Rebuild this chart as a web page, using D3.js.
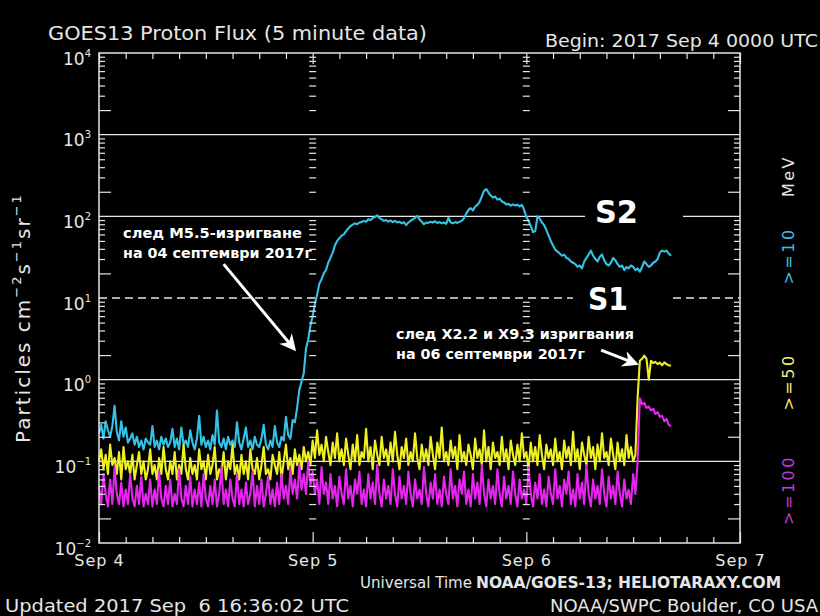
<!DOCTYPE html>
<html><head><meta charset="utf-8">
<script src="https://cdn.jsdelivr.net/npm/d3@7"></script>
<style>body{margin:0;background:#000}svg{display:block}</style>
</head><body><svg id="c" width="820" height="616"></svg>
<script>
// ---- data (5-minute GOES13 proton flux, read every 15 minutes from the picture) ----
const startTime = Date.UTC(2017, 8, 4, 0, 0);
const stepMinutes = 15;
const p10 = [
.22,.28,.19,.31,.24,.2,.27,.48,.23,.18,.31,.2,.26,.17,.19,.22,
.16,.2,.15,.18,.14,.19,.17,.16,.27,.15,.18,.14,.2,.16,.19,.15,
.17,.25,.15,.19,.14,.26,.16,.18,.15,.24,.17,.14,.19,.36,.16,.2,
.15,.18,.14,.21,.16,.42,.17,.15,.19,.14,.2,.16,.18,.15,.3,.17,
.14,.19,.26,.15,.18,.14,.2,.16,.15,.19,.28,.16,.14,.18,.15,.27,
.17,.15,.2,.18,.35,.21,.19,.32,.3,.45,.75,.95,1.2,2.4,3.1,4.6,
6,8.5,11,15,17,20,22,27,31,36,44,50,54,58,60,66,
71,76,79,82,80,84,85,88,86,92,90,95,98,103,95,92,
88,90,86,89,85,88,84,86,82,85,78,84,88,92,96,101,
92,86,80,84,83,86,84,87,83,85,82,84,81,96,84,82,
85,83,86,88,95,108,120,126,118,132,138,150,175,205,215,195,
180,170,175,160,165,152,148,140,142,135,140,136,139,132,138,120,
98,88,76,64,66,100,94,84,78,68,58,50,44,39,37,35,
33,34,31,30,28,27,26,24,25,23,28,31,34,38,33,30,
28,32,34,29,26,25,27,31,29,26,24,25,22,24,23,25,
24,22,23,21,24,28,26,24,25,27,28,30,36,38,37,38,35,33];
const p50 = [
.1,.14,.08,.12,.07,.16,.09,.11,.07,.13,.06,.15,.08,.1,.07,.12,
.06,.09,.13,.07,.1,.06,.08,.14,.07,.09,.06,.11,.07,.15,.08,.06,
.1,.07,.13,.06,.09,.07,.16,.08,.06,.11,.07,.09,.06,.14,.08,.1,
.06,.12,.07,.09,.15,.06,.08,.07,.13,.06,.1,.08,.16,.07,.09,.06,
.12,.07,.1,.06,.14,.08,.07,.11,.06,.09,.15,.07,.08,.06,.12,.09,
.07,.13,.06,.1,.16,.08,.11,.07,.14,.09,.12,.08,.15,.1,.13,.09,
.18,.11,.24,.12,.16,.1,.2,.13,.09,.17,.11,.22,.1,.14,.09,.19,
.12,.08,.16,.1,.21,.09,.13,.11,.25,.1,.15,.08,.18,.12,.09,.2,
.11,.14,.09,.17,.1,.23,.12,.08,.15,.11,.19,.09,.13,.1,.22,.11,
.08,.16,.1,.14,.09,.2,.12,.08,.17,.11,.26,.1,.13,.09,.18,.11,
.15,.08,.21,.1,.13,.09,.16,.12,.08,.19,.11,.14,.09,.24,.1,.15,
.08,.17,.11,.13,.09,.2,.1,.14,.08,.18,.12,.09,.16,.1,.22,.11,
.13,.08,.17,.1,.15,.09,.21,.12,.08,.16,.11,.14,.09,.19,.1,.13,
.08,.18,.11,.15,.09,.23,.1,.14,.08,.17,.12,.09,.2,.11,.15,.08,
.16,.1,.22,.11,.13,.09,.19,.12,.08,.17,.1,.14,.09,.21,.11,.15,
.1,.12,.6,1.7,1.8,1.97,1.8,1.0,1.7,1.6,1.65,1.55,1.62,1.5,1.63,1.55,1.5,1.48];
const p100 = [
.05,.03,.07,.04,.028,.06,.03,.085,.04,.03,.055,.028,.045,.03,.07,.035,
.028,.05,.03,.065,.028,.04,.03,.06,.028,.045,.03,.075,.035,.028,.05,.03,
.06,.028,.04,.03,.08,.035,.028,.05,.03,.065,.028,.045,.03,.055,.028,.07,
.035,.028,.05,.03,.06,.028,.04,.085,.03,.045,.028,.06,.035,.028,.07,.03,
.045,.028,.055,.03,.04,.075,.028,.05,.03,.06,.028,.04,.065,.03,.045,.028,
.055,.03,.07,.035,.05,.03,.08,.04,.06,.035,.09,.045,.07,.04,.1,.05,
.075,.04,.06,.03,.085,.04,.055,.03,.07,.035,.05,.028,.065,.04,.03,.08,
.035,.05,.028,.06,.04,.075,.03,.045,.028,.07,.035,.055,.03,.09,.04,.028,
.06,.035,.05,.03,.08,.04,.028,.065,.035,.05,.03,.075,.04,.028,.06,.035,
.045,.03,.085,.04,.028,.055,.035,.07,.03,.045,.028,.065,.04,.03,.08,.035,
.05,.028,.06,.04,.075,.03,.045,.028,.07,.035,.055,.03,.09,.04,.028,.06,
.035,.05,.03,.08,.04,.028,.065,.035,.05,.03,.075,.04,.028,.06,.035,.045,
.03,.085,.04,.028,.055,.035,.07,.03,.045,.028,.065,.04,.03,.08,.035,.05,
.028,.06,.04,.075,.03,.045,.028,.07,.035,.055,.03,.09,.04,.028,.06,.035,
.05,.03,.08,.04,.028,.065,.035,.05,.03,.075,.04,.028,.06,.035,.045,.03,
.07,.04,.1,.59,.5,.52,.45,.47,.42,.44,.38,.4,.35,.36,.31,.33,.28,.27];
const yExponents = [4, 3, 2, 1, 0, -1, -2];
const dayLabels = ["Sep 4", "Sep 5", "Sep 6", "Sep 7"];
const channelLabels = ["MeV", ">=10", ">=50", ">=100"];

// ---- drawing ----
const W = 820, H = 616;
const svg = d3.select("#c");
svg.append("rect").attr("width", W).attr("height", H).attr("fill", "#000");
const L = 99, R = 740, T = 53, B = 543;
const fg = "#e6e6e6";
const font = "'DejaVu Sans', sans-serif";

const days = dayLabels.map((d, i) => new Date(Date.UTC(2017, 8, 4 + i)));
const x = d3.scaleUtc().domain([days[0], days[3]]).range([L, R]);
const y = d3.scaleLog().domain([1e-2, 1e4]).range([B, T]);
const majors = yExponents.map(e => Math.pow(10, e));
const minors = [];
for (let e = -2; e < 4; e++) for (let k = 2; k < 10; k++) minors.push(k * Math.pow(10, e));
const twos = minors.filter(v => Math.abs(v / Math.pow(10, Math.floor(Math.log10(v) + 1e-9)) - 2) < 1e-6);
const others = minors.filter(v => !twos.includes(v));
const tAt = i => new Date(startTime + i * stepMinutes * 60000);

// grid lines
const grid = svg.append("g").attr("stroke", fg).attr("stroke-width", 1.3);
[[1e3, L, R], [1e2, L, 585], [1e2, 683, R], [1e0, L, R], [1e-1, L, R]].forEach(([v, a, b]) =>
  grid.append("line").attr("x1", a).attr("x2", b).attr("y1", y(v)).attr("y2", y(v)));
[[1e1, L, 573], [1e1, 673, R]].forEach(([v, a, b]) =>
  grid.append("line").attr("x1", a).attr("x2", b).attr("y1", y(v)).attr("y2", y(v))
    .attr("stroke-dasharray", "8,5"));

// series
const line = d3.line().x((d, i) => x(tAt(i))).y(d => y(d));
const series = [[p10, "#34c3e6"], [p50, "#eef024"], [p100, "#e426ee"]];
series.forEach(([data, col]) => {
  svg.append("path").attr("d", line(data)).attr("fill", "none")
    .attr("stroke", col).attr("stroke-width", 2.1).attr("stroke-linejoin", "round");
});

// frame
svg.append("rect").attr("x", L).attr("y", T).attr("width", R - L).attr("height", B - T)
  .attr("fill", "none").attr("stroke", fg).attr("stroke-width", 1.5);

function clean(g) { g.select(".domain").remove(); g.selectAll("line").attr("stroke", fg).attr("stroke-width", 1.2); }

// left axis ticks
svg.append("g").attr("transform", `translate(${L},0)`)
  .call(d3.axisRight(y).tickValues(others).tickSize(6).tickFormat("")).call(clean);
svg.append("g").attr("transform", `translate(${L},0)`)
  .call(d3.axisRight(y).tickValues(twos).tickSize(12).tickFormat("")).call(clean);
// right axis ticks
svg.append("g").attr("transform", `translate(${R},0)`)
  .call(d3.axisLeft(y).tickValues(others).tickSize(6).tickFormat("")).call(clean);
svg.append("g").attr("transform", `translate(${R},0)`)
  .call(d3.axisLeft(y).tickValues(twos).tickSize(12).tickFormat("")).call(clean);
// day-boundary tick columns
[days[1], days[2]].forEach(d => {
  svg.append("g").attr("transform", `translate(${x(d) + 3.5},0)`)
    .call(d3.axisLeft(y).tickValues(minors).tickSize(7).tickFormat("")).call(clean);
});

// time axes
const hrs = d3.utcHour.every(3).range(days[0], days[3]).filter(d => d.getUTCHours() !== 0);
svg.append("g").attr("transform", `translate(0,${B})`)
  .call(d3.axisTop(x).tickValues(hrs).tickSize(6).tickFormat("")).call(clean);
svg.append("g").attr("transform", `translate(0,${T})`)
  .call(d3.axisBottom(x).tickValues(hrs).tickSize(6).tickFormat("")).call(clean);
svg.append("g").attr("transform", `translate(0,${B})`)
  .call(d3.axisTop(x).tickValues(days).tickSize(11).tickFormat("")).call(clean);
svg.append("g").attr("transform", `translate(0,${T})`)
  .call(d3.axisBottom(x).tickValues(days).tickSize(11).tickFormat("")).call(clean);

// day labels
const xl = svg.append("g").attr("transform", `translate(0,${B})`)
  .call(d3.axisBottom(x).tickValues(days).tickSize(0).tickPadding(12).tickFormat((d, i) => dayLabels[i]));
xl.select(".domain").remove();
xl.selectAll("text").attr("fill", fg).attr("font-family", font).attr("font-size", 16).attr("letter-spacing", 1);

// y labels with superscripts
const yl = svg.append("g").attr("transform", `translate(${L},0)`)
  .call(d3.axisLeft(y).tickValues(majors).tickSize(0).tickPadding(8).tickFormat(""));
yl.select(".domain").remove();
yl.selectAll("text").each(function (d, i) {
  const t = d3.select(this).attr("fill", fg).attr("font-family", font).attr("font-size", 17)
    .attr("dy", "0.65em").attr("text-anchor", "end");
  t.append("tspan").text("10");
  t.append("tspan").attr("dy", -8).attr("font-size", 10).text(String(yExponents[i]).replace("-", "\u2212"));
});

// y axis title
const yt = svg.append("text").attr("transform", "translate(30,318) rotate(-90)")
  .attr("text-anchor", "middle").attr("fill", fg).attr("font-family", font)
  .attr("font-size", 20).attr("letter-spacing", 2);
yt.append("tspan").text("Particles cm");
yt.append("tspan").attr("dy", -9).attr("font-size", 13).text("\u22122");
yt.append("tspan").attr("dy", 9).text("s");
yt.append("tspan").attr("dy", -9).attr("font-size", 13).text("\u22121");
yt.append("tspan").attr("dy", 9).text("sr");
yt.append("tspan").attr("dy", -9).attr("font-size", 13).text("\u22121");

// channel labels at right
const chColors = [fg, "#38c0e4", "#eef070", "#c43ad8"];
const chY = [176, 256, 382, 490];
channelLabels.forEach((s, i) => {
  svg.append("text").attr("transform", `translate(794,${chY[i]}) rotate(-90)`)
    .attr("text-anchor", "middle").attr("fill", chColors[i]).attr("font-family", font)
    .attr("font-size", 16).attr("letter-spacing", 2.5).text(s);
});

// titles & footers
function txt(s, xx, yy, size, opts = {}) {
  const t = svg.append("text").attr("x", xx).attr("y", yy).attr("fill", opts.fill || fg)
    .attr("font-family", opts.family || font).attr("font-size", size)
    .attr("font-weight", opts.weight || "normal").text(s);
  if (opts.len) t.attr("textLength", opts.len).attr("lengthAdjust", "spacingAndGlyphs");
  if (opts.anchor) t.attr("text-anchor", opts.anchor);
  return t;
}
txt("GOES13 Proton Flux (5 minute data)", 48, 40, 19, { len: 379 });
txt("Begin: 2017 Sep 4 0000 UTC", 545, 47, 18, { len: 273 });
txt("Universal Time", 360, 588, 16, { len: 112 });
txt("NOAA/GOES-13; HELIOTARAXY.COM", 476, 588, 16, { len: 305, weight: "bold", family: "'DejaVu Sans Condensed','DejaVu Sans',sans-serif" });
txt("Updated 2017 Sep  6 16:36:02 UTC", 5, 612, 18, { len: 344 }).attr("xml:space", "preserve").style("white-space", "pre");
txt("NOAA/SWPC Boulder, CO USA", 550, 612, 18, { len: 268 });

// annotations
const ann = { weight: "bold", fill: "#ffffff" };
txt("след M5.5-изригване", 123, 238, 14, Object.assign({ len: 179 }, ann));
txt("на 04 септември 2017г", 123, 258, 14, Object.assign({ len: 189 }, ann));
txt("след X2.2 и X9.3 изригвания", 396, 339, 14, Object.assign({ len: 238 }, ann));
txt("на 06 септември 2017г", 396, 359, 14, Object.assign({ len: 189 }, ann));
txt("S2", 595, 223, 32, Object.assign({ len: 43 }, ann));
txt("S1", 588, 310, 32, Object.assign({ len: 40 }, ann));

// arrows (positions in data coordinates)
svg.append("defs").append("marker").attr("id", "ah").attr("viewBox", "0 0 10 10")
  .attr("refX", 8).attr("refY", 5).attr("markerWidth", 5.5).attr("markerHeight", 5.5)
  .attr("orient", "auto").append("path").attr("d", "M0,0 L10,5 L0,10 L3,5 Z").attr("fill", "#fff");
const arrows = [
  [[14.0, 26], [21.9, 2.4]],
  [[56.4, 2.3], [60.3, 1.57]]
];
const hx = h => x(new Date(startTime + h * 3600000));
arrows.forEach(([a, b]) => {
  svg.append("line").attr("x1", hx(a[0])).attr("y1", y(a[1])).attr("x2", hx(b[0])).attr("y2", y(b[1]))
    .attr("stroke", "#fff").attr("stroke-width", 3).attr("marker-end", "url(#ah)");
});
</script>
</body></html>
